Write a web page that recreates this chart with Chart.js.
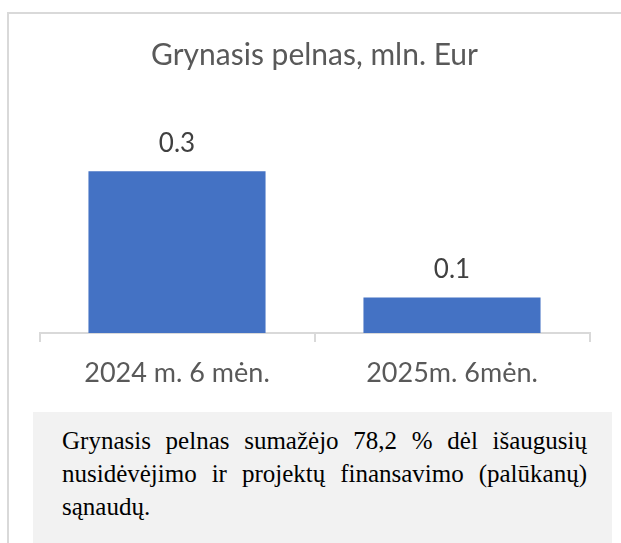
<!DOCTYPE html>
<html>
<head>
<meta charset="utf-8">
<script src="https://cdn.jsdelivr.net/npm/chart.js@4/dist/chart.umd.min.js"></script>
<style>
  html, body { margin: 0; padding: 0; background: #ffffff; }
  #wrap { position: relative; width: 621px; height: 543px; overflow: hidden; background: #fff; }
  #frame { position: absolute; left: 7px; top: 12px; width: 700px; height: 700px;
           border-left: 2px solid #d9d9d9; border-top: 2px solid #d9d9d9; box-sizing: border-box; }
  #cv { position: absolute; left: 0; top: 0; }
  #note { position: absolute; left: 33px; top: 412px; width: 579px; height: 200px;
          background: #f2f2f2; box-sizing: border-box; padding: 12px 25px 0 29px;
          font-family: "Liberation Serif", "Times New Roman", serif; font-size: 25px;
          line-height: 33px; color: #000; text-align: justify; }
</style>
</head>
<body>
<div id="wrap">
  <div id="frame"></div>
  <canvas id="cv" width="621" height="400"></canvas>
  <div id="note">Grynasis pelnas sumažėjo 78,2 % dėl išaugusių nusidėvėjimo ir projektų finansavimo (palūkanų) sąnaudų.</div>
</div>
<script>
const chartTitle = 'Grynasis pelnas, mln. Eur';
const categories = ['2024 m. 6 mėn.', '2025m. 6mėn.'];
const netProfit = [0.32, 0.07];

const valueLabels = {
  id: 'valueLabels',
  afterDatasetsDraw(chart) {
    const ctx = chart.ctx;
    const meta = chart.getDatasetMeta(0);
    ctx.save();
    ctx.font = '26px Lato, "Open Sans", sans-serif';
    ctx.fillStyle = '#404040';
    ctx.textAlign = 'center';
    ctx.textBaseline = 'middle';
    meta.data.forEach((bar, i) => {
      const v = chart.data.datasets[0].data[i];
      ctx.fillText(v.toFixed(1), bar.x, bar.y - 28);
    });
    ctx.restore();
  }
};

new Chart(document.getElementById('cv'), {
  type: 'bar',
  data: {
    labels: categories,
    datasets: [{
      data: netProfit,
      backgroundColor: '#4472C4',
      borderWidth: 0,
      barPercentage: 0.644,
      categoryPercentage: 1
    }]
  },
  options: {
    responsive: false,
    animation: false,
    events: [],
    layout: { padding: { left: 39.5, right: 31.5, top: 0, bottom: 0 } },
    plugins: {
      legend: { display: false },
      tooltip: { enabled: false },
      title: {
        display: true,
        text: chartTitle,
        color: '#595959',
        font: { family: 'Lato, "Open Sans", sans-serif', size: 30, weight: 'normal', lineHeight: 1.2 },
        padding: { top: 37, bottom: 83 }
      }
    },
    scales: {
      x: {
        offset: true,
        grid: { display: true, drawOnChartArea: false, drawTicks: true, tickLength: 9,
                color: '#d9d9d9', lineWidth: 2, offset: true },
        border: { display: true, color: '#d9d9d9', width: 2 },
        ticks: { color: '#595959', padding: 15,
                 font: { family: 'Lato, "Open Sans", sans-serif', size: 27, lineHeight: 1.2 } },
        afterFit(scale) { scale.height = 67; }
      },
      y: {
        display: false,
        min: 0,
        max: 0.35
      }
    }
  },
  plugins: [valueLabels]
});
</script>
</body>
</html>
